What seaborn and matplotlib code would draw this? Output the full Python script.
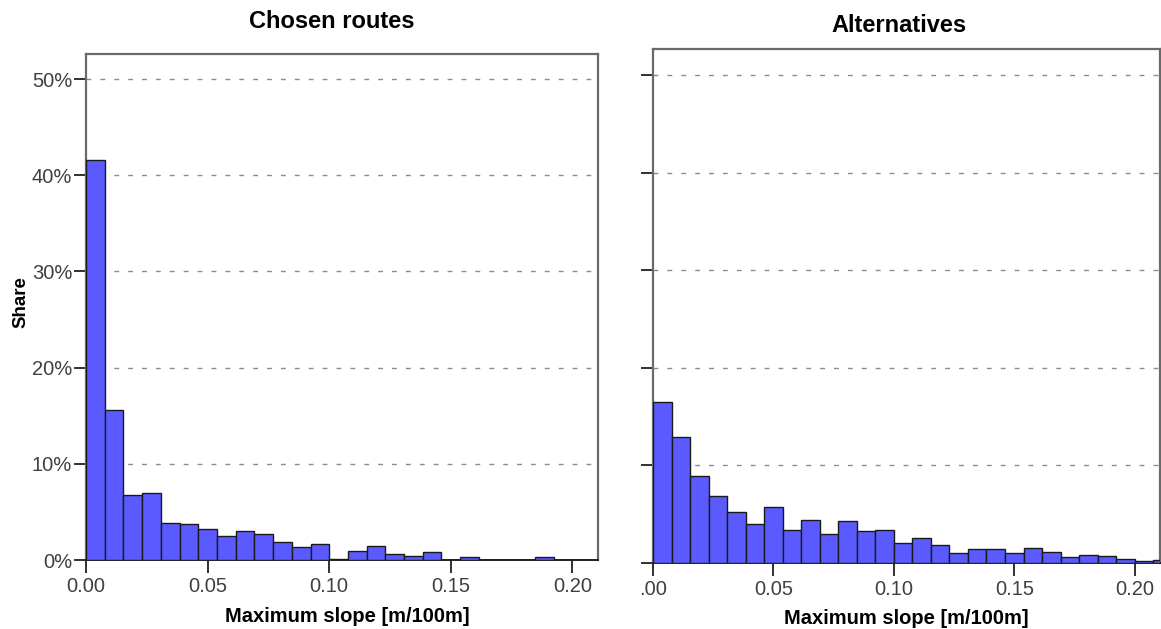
import numpy as np
import pandas as pd
import matplotlib
matplotlib.use("Agg")
import matplotlib.pyplot as plt
from matplotlib.ticker import FuncFormatter, FixedLocator
import seaborn as sns

sns.set_theme(style="white")
plt.rcParams["font.family"] = ["Liberation Sans", "DejaVu Sans"]

# Histogram shares (%) per slope bin, bin width = 0.1 / 13
bin_width = 0.1 / 13
chosen_share = [41.6, 15.6, 6.8, 7.0, 3.8, 3.7, 3.25, 2.5, 3.05, 2.7,
                1.92, 1.3, 1.65, 0.1, 0.98, 1.5, 0.6, 0.38, 0.78, 0.0,
                0.28, 0.0, 0.0, 0.0, 0.28, 0.0, 0.0]
alternative_share = [16.5, 12.9, 8.9, 6.9, 5.2, 4.0, 5.75, 3.35, 4.4, 3.0,
                     4.3, 3.28, 3.4, 2.05, 2.6, 1.8, 1.06, 1.47, 1.4, 1.06,
                     1.5, 1.16, 0.65, 0.78, 0.68, 0.44, 0.17, 0.34]

panel_titles = ["Chosen routes", "Alternatives"]
x_label = "Maximum slope [m/100m]"
y_label = "Share"
x_ticks = [0.00, 0.05, 0.10, 0.15, 0.20]
y_ticks = [0, 10, 20, 30, 40, 50]

W, H = 1161, 629
fig = plt.figure(figsize=(W / 100, H / 100), dpi=100)

def px_axes(x0, y0, x1, y1):
    return fig.add_axes([x0 / W, 1 - y1 / H, (x1 - x0) / W, (y1 - y0) / H])

ax_left = px_axes(86, 54, 598, 560)
ax_right = px_axes(653, 49, 1160, 563)

bar_color = "#5a5aff"
spine_color = "#6a6a6a"
tick_color = "#404040"

for ax, shares, ytop in [(ax_left, chosen_share, 52.6),
                         (ax_right, alternative_share, 52.66)]:
    n = len(shares)
    df = pd.DataFrame({"slope": (np.arange(n) + 0.5) * bin_width,
                       "share": np.asarray(shares, dtype=float)})
    sns.histplot(data=df, x="slope", weights="share", binwidth=bin_width,
                 binrange=(0.0, n * bin_width), ax=ax,
                 color=bar_color, alpha=1.0, edgecolor="#1a1a1a",
                 linewidth=1.0, zorder=3)
    ax.set_xlim(0, 0.2105)
    ax.set_ylim(0, ytop)
    ax.set_axisbelow(True)
    ax.yaxis.set_major_locator(FixedLocator(y_ticks))
    ax.xaxis.set_major_locator(FixedLocator(x_ticks))
    for yv in y_ticks[1:]:
        ax.axhline(yv, color="#8c8c8c", linewidth=1.0,
                   linestyle=(0, (3.5, 6.5)), zorder=1)
    for side in ["left", "right", "top"]:
        ax.spines[side].set_visible(True)
        ax.spines[side].set_color(spine_color)
        ax.spines[side].set_linewidth(1.6)
    ax.spines["bottom"].set_visible(True)
    ax.spines["bottom"].set_color("#202020")
    ax.spines["bottom"].set_linewidth(1.4)
    ax.tick_params(axis="both", which="major", direction="out", length=9,
                   width=1.4, color="#303030", labelsize=14.5,
                   labelcolor=tick_color, bottom=True, left=True)
    ax.tick_params(axis="x", pad=3)
    ax.tick_params(axis="y", pad=1)
    ax.set_xlabel("")
    ax.set_ylabel("")
    ax.grid(False)

ax_left.yaxis.set_major_formatter(FuncFormatter(lambda v, p: f"{v:.0f}%"))
ax_left.xaxis.set_major_formatter(FuncFormatter(lambda v, p: f"{v:.2f}"))
ax_right.yaxis.set_major_formatter(FuncFormatter(lambda v, p: ""))
ax_right.xaxis.set_major_formatter(
    FuncFormatter(lambda v, p: ".00" if v == 0 else f"{v:.2f}"))

fig.text(332 / W, 1 - 22 / H, panel_titles[0], ha="center", va="center",
         fontsize=17, fontweight="bold", color="black")
fig.text(899 / W, 1 - 25 / H, panel_titles[1], ha="center", va="center",
         fontsize=17, fontweight="bold", color="black")
fig.text(347 / W, 1 - 616 / H, x_label, ha="center", va="center",
         fontsize=14.5, fontweight="bold", color="black")
fig.text(906 / W, 1 - 618 / H, x_label, ha="center", va="center",
         fontsize=14.5, fontweight="bold", color="black")
fig.text(21 / W, 1 - 302 / H, y_label, ha="center", va="center",
         rotation=90, fontsize=13.5, fontweight="bold", color="black")

fig.savefig("out.png", dpi=100, facecolor="white")
